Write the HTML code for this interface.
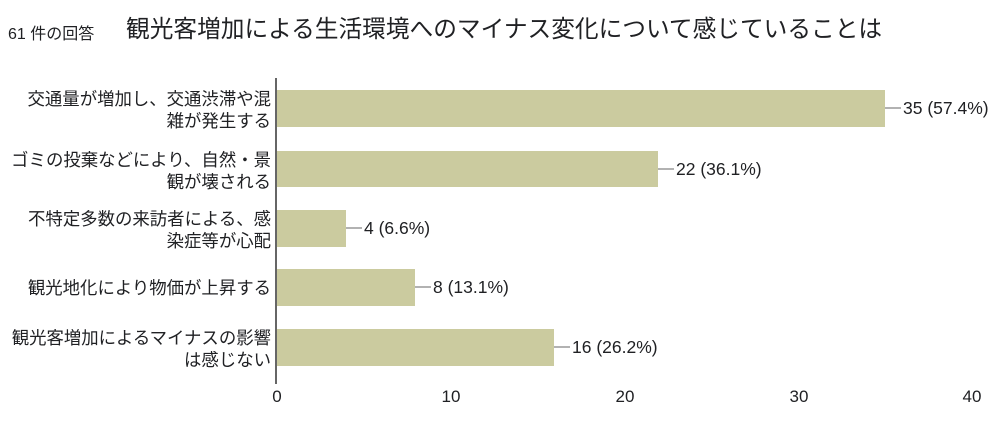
<!DOCTYPE html>
<html><head><meta charset="utf-8"><style>
body{margin:0;background:#fff;width:1000px;height:419px;overflow:hidden;font-family:"Liberation Sans","Noto Sans CJK JP",sans-serif;}
</style></head><body>
<svg width="1000" height="419" xmlns="http://www.w3.org/2000/svg" style="font-family:'Liberation Sans','Noto Sans CJK JP',sans-serif">
<text x="8" y="39" font-size="16" fill="#202124">61 件の回答</text>
<text x="126" y="37" font-size="23.7" fill="#202124">観光客増加による生活環境へのマイナス変化について感じていることは</text>
<g fill="#cbcb9f">
<rect x="277" y="90" width="608" height="37"/>
<rect x="277" y="151" width="381" height="36"/>
<rect x="277" y="210" width="69" height="37"/>
<rect x="277" y="269" width="138" height="37"/>
<rect x="277" y="329" width="277" height="37"/>
</g>
<line x1="276" y1="78" x2="276" y2="384" stroke="#333" stroke-width="1.5"/>
<g stroke="#666" stroke-width="1">
<line x1="885" y1="108" x2="901" y2="108"/>
<line x1="658" y1="169" x2="674" y2="169"/>
<line x1="346" y1="228" x2="362" y2="228"/>
<line x1="415" y1="287" x2="431" y2="287"/>
<line x1="554" y1="347" x2="570" y2="347"/>
</g>
<g font-size="17.5" fill="#202124">
<text x="903" y="114">35 (57.4%)</text>
<text x="676" y="175">22 (36.1%)</text>
<text x="364" y="234">4 (6.6%)</text>
<text x="433" y="293">8 (13.1%)</text>
<text x="572" y="353">16 (26.2%)</text>
</g>
<g font-size="17.4" fill="#202124" text-anchor="end">
<text x="271" y="105">交通量が増加し、交通渋滞や混</text>
<text x="271" y="127">雑が発生する</text>
<text x="271" y="166">ゴミの投棄などにより、自然・景</text>
<text x="271" y="188">観が壊される</text>
<text x="271" y="225">不特定多数の来訪者による、感</text>
<text x="271" y="247">染症等が心配</text>
<text x="271" y="294">観光地化により物価が上昇する</text>
<text x="271" y="344">観光客増加によるマイナスの影響</text>
<text x="271" y="366">は感じない</text>
</g>
<g font-size="17" fill="#202124" text-anchor="middle">
<text x="277" y="402">0</text>
<text x="451" y="402">10</text>
<text x="625" y="402">20</text>
<text x="799" y="402">30</text>
<text x="972" y="402">40</text>
</g>
</svg>
</body></html>
